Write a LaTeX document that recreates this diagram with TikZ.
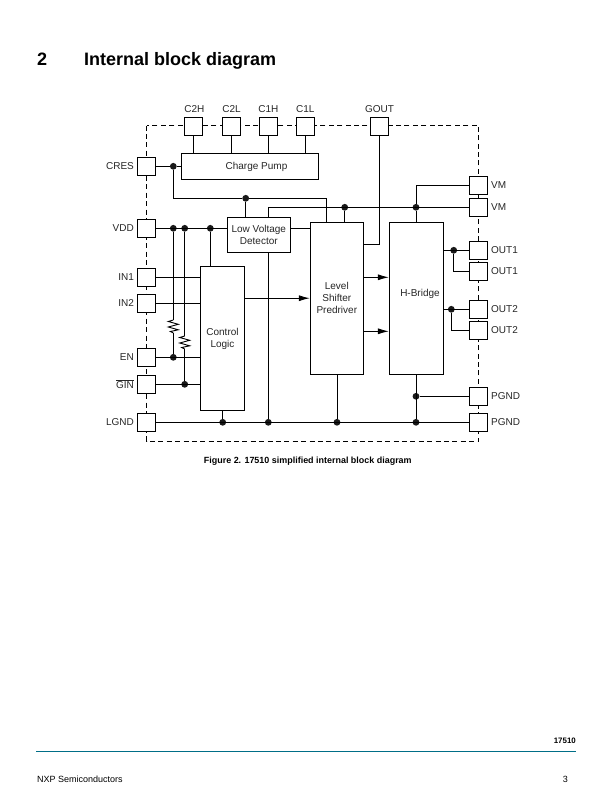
\documentclass[tikz,border=0pt]{standalone}
\usepackage{tikz}
\usepackage{xcolor}
\usepackage{fontspec}
\setmainfont{Liberation Sans}
\usetikzlibrary{positioning,arrows.meta}

\definecolor{rulecolor}{RGB}{0,110,135}

\tikzset{
  pin/.style={draw,fill=white,line width=0.9bp,minimum size=18bp,inner sep=0pt},
  block/.style={draw,fill=white,line width=0.9bp,align=center,inner sep=0pt,font=\fontsize{10bp}{12bp}\selectfont,text=black!85},
  blocktext/.style={inner sep=0pt,font=\fontsize{10bp}{12bp}\selectfont,text=black!85},
  junction/.style={circle,fill=black!90,minimum size=6.8bp,inner sep=0pt},
  wire/.style={line width=0.9bp},
  pinlabel/.style={inner sep=0pt,font=\fontsize{10bp}{12bp}\selectfont,text=black!85},
  flow/.style={wire,-{Latex[length=11bp,width=6bp]}},
  resistor/.pic={\draw[wire] (0,0) -- (-5,1.5) -- (5,4.3) -- (-5,7) -- (5,9.8) -- (-3,11.5) -- (0,13);}
}

\begin{document}
\begin{tikzpicture}[x=1bp,y=-1bp]
  \useasboundingbox (0,0) rectangle (612,792);

  % package outline
  \coordinate (boxtl) at (146.5,125.5);
  \coordinate (boxbr) at (478.8,441.3);
  \draw[line width=0.8bp,dash pattern=on 5bp off 3.4bp] (boxtl) rectangle (boxbr);

  % blocks
  \node[block,minimum width=137bp,minimum height=25.6bp] (pump) at (249.8,166.5) {};
  \node[blocktext] (pumptext) at (256.5,166.7) {Charge Pump};
  \node[block,minimum width=63bp,minimum height=35bp] (lvd) at (258.8,234.8) {Low Voltage\\Detector};
  \node[block,minimum width=44.4bp,minimum height=144bp] (logic) at (222.5,338.3) {};
  \node[blocktext,align=center] (logictext) at (222.5,339) {Control\\Logic};
  \node[block,minimum width=53bp,minimum height=152.3bp] (shifter) at (336.8,298.2) {Level\\Shifter\\Predriver};
  \node[block,minimum width=54.4bp,minimum height=152.3bp] (bridge) at (416.5,298.2) {};
  \node[blocktext] (bridgetext) at (420,293.8) {H-Bridge};

  % pins on the top
  \node[pin] (c2h) at (193.3,126.7) {};
  \node[pin] (c2l) at (231.5,126.7) {};
  \node[pin] (c1h) at (268.3,126.7) {};
  \node[pin] (c1l) at (305.3,126.7) {};
  \node[pin] (gout) at (379.5,126.7) {};

  % pins on the left
  \node[pin] (cres) at (146.5,166.3) {};
  \node[pin] (vdd) at (146.5,228.3) {};
  \node[pin] (in1) at (146.5,277) {};
  \node[pin] (in2) at (146.5,303.3) {};
  \node[pin] (en) at (146.5,357.3) {};
  \node[pin] (gin) at (146.5,384.3) {};
  \node[pin] (lgnd) at (146.5,422.3) {};

  % pins on the right
  \node[pin] (vma) at (478.5,185.3) {};
  \node[pin] (vmb) at (478.5,207.3) {};
  \node[pin] (outa) at (478.5,250.3) {};
  \node[pin] (outb) at (478.5,271.3) {};
  \node[pin] (outc) at (478.5,309.3) {};
  \node[pin] (outd) at (478.5,330.3) {};
  \node[pin] (pgnda) at (478.5,396.3) {};
  \node[pin] (pgndb) at (478.5,422.3) {};

  % pin names
  \node[pinlabel,above=4bp of c2h,xshift=1bp] (c2htext) {C2H};
  \node[pinlabel,above=4bp of c2l] (c2ltext) {C2L};
  \node[pinlabel,above=4bp of c1h] (c1htext) {C1H};
  \node[pinlabel,above=4bp of c1l] (c1ltext) {C1L};
  \node[pinlabel,above=4bp of gout] (gouttext) {GOUT};
  \node[pinlabel,left=3bp of cres] (crestext) {CRES};
  \node[pinlabel,left=3bp of vdd] (vddtext) {VDD};
  \node[pinlabel,left=3bp of in1] (in1text) {IN1};
  \node[pinlabel,left=3bp of in2] (in2text) {IN2};
  \node[pinlabel,left=3bp of en] (entext) {EN};
  \node[pinlabel,left=3bp of gin] (gintext) {$\overline{\mbox{GIN}}$};
  \node[pinlabel,left=3bp of lgnd] (lgndtext) {LGND};
  \node[pinlabel,right=3bp of vma] (vmatext) {VM};
  \node[pinlabel,right=3bp of vmb] (vmbtext) {VM};
  \node[pinlabel,right=3bp of outa] (outatext) {OUT1};
  \node[pinlabel,right=3bp of outb] (outbtext) {OUT1};
  \node[pinlabel,right=3bp of outc] (outctext) {OUT2};
  \node[pinlabel,right=3bp of outd] (outdtext) {OUT2};
  \node[pinlabel,right=3bp of pgnda] (pgndatext) {PGND};
  \node[pinlabel,right=3bp of pgndb] (pgndbtext) {PGND};

  % junctions
  \node[junction] (jcres) at (173.3,166.3) {};
  \node[junction] (jlvd) at (245.7,198.3) {};
  \node[junction] (jvdda) at (173.3,228.3) {};
  \node[junction] (jvddb) at (184.7,228.3) {};
  \node[junction] (jvddc) at (210.3,228.3) {};
  \node[junction] (jen) at (173.3,357.3) {};
  \node[junction] (jgin) at (184.7,384.3) {};
  \node[junction] (jvma) at (344.7,207.3) {};
  \node[junction] (jvmb) at (416,207.3) {};
  \node[junction] (jouta) at (453.7,250.3) {};
  \node[junction] (joutb) at (451.3,309.3) {};
  \node[junction] (jgnda) at (222.7,422.3) {};
  \node[junction] (jgndb) at (268.3,422.3) {};
  \node[junction] (jgndc) at (337,422.3) {};
  \node[junction] (jgndd) at (416,422.3) {};
  \node[junction] (jgnde) at (416,396.3) {};

  % resistors
  \coordinate (resatop) at (173.3,320);
  \coordinate (resabot) at (173.3,333);
  \coordinate (resbtop) at (184.7,336);
  \coordinate (resbbot) at (184.7,349);
  \draw[wire] (jvdda) -- (resatop);
  \pic at (resatop) {resistor};
  \draw[wire] (resabot) -- (jen);
  \draw[wire] (jvddb) -- (resbtop);
  \pic at (resbtop) {resistor};
  \draw[wire] (resbbot) -- (jgin);

  % charge pump and supply wires
  \coordinate (shiftfeed) at (326.3,222.2);
  \coordinate (lvdfeed) at (268.3,217.3);
  \coordinate (goutfeed) at (363.3,244.3);
  \draw[wire] (c2h) -- (c2h |- pump.north);
  \draw[wire] (c2l) -- (c2l |- pump.north);
  \draw[wire] (c1h) -- (c1h |- pump.north);
  \draw[wire] (c1l) -- (c1l |- pump.north);
  \draw[wire] (cres) -- (jcres) -- (pump.west |- jcres);
  \draw[wire] (jcres) |- (jlvd) -| (shiftfeed);
  \draw[wire] (jlvd) -- (jlvd |- lvd.north);
  \draw[wire] (lvdfeed) |- (vmb.west);
  \draw[wire] (jvma) -- (jvma |- shifter.north);
  \draw[wire] (vma.west) -| (jvmb);
  \draw[wire] (jvmb) -- (jvmb |- bridge.north);
  \draw[wire] (gout.south) |- (goutfeed);

  % inputs
  \draw[wire] (vdd) -- (vdd -| lvd.west);
  \draw[wire] (jvddc) -- (jvddc |- logic.north);
  \draw[wire] (lvd.east |- vdd) -- (vdd -| shifter.west);
  \draw[wire] (in1) -- (in1 -| logic.west);
  \draw[wire] (in2) -- (in2 -| logic.west);
  \draw[wire] (en) -- (en -| logic.west);
  \draw[wire] (gin) -- (gin -| logic.west);

  % signal flow
  \coordinate (flowa) at (244.7,298.2);
  \coordinate (flowb) at (363.3,277.3);
  \coordinate (flowc) at (363.3,331.3);
  \draw[flow] (flowa) -- (flowa -| shifter.west);
  \draw[flow] (flowb) -- (flowb -| bridge.west);
  \draw[flow] (flowc) -- (flowc -| bridge.west);

  % outputs
  \draw[wire] (outa -| bridge.east) -- (outa);
  \draw[wire] (jouta) |- (outb);
  \draw[wire] (outc -| bridge.east) -- (outc);
  \draw[wire] (joutb) |- (outd);

  % ground
  \draw[wire] (lgnd) -- (pgndb);
  \draw[wire] (jgnda) -- (jgnda |- logic.south);
  \draw[wire] (jgndb) -- (jgndb |- lvd.south);
  \draw[wire] (jgndc) -- (jgndc |- shifter.south);
  \draw[wire] (jgndd) -- (jgndd |- bridge.south);
  \draw[wire] (jgnde) -- (pgnda);

  % page text
  \node[anchor=base west,inner sep=0pt,font=\fontsize{18bp}{20bp}\selectfont\bfseries] (secnum) at (37,65.5) {2};
  \node[anchor=base west,inner sep=0pt,font=\fontsize{18bp}{20bp}\selectfont\bfseries] (sectitle) at (84,65.5) {Internal block diagram};
  \node[anchor=base,inner sep=0pt,font=\fontsize{8.95bp}{10bp}\selectfont\bfseries] (caption) at (307.8,463) {Figure 2. 17510 simplified internal block diagram};
  \node[anchor=base east,inner sep=0pt,font=\fontsize{7.9bp}{9bp}\selectfont\bfseries] (docnum) at (576,743) {17510};
  \coordinate (rulel) at (36,751.5);
  \coordinate (ruler) at (576,751.5);
  \draw[rulecolor,line width=0.7bp] (rulel) -- (ruler);
  \node[anchor=base west,inner sep=0pt,font=\fontsize{9bp}{10bp}\selectfont] (company) at (37,782) {NXP Semiconductors};
  \node[anchor=base east,inner sep=0pt,font=\fontsize{9bp}{10bp}\selectfont] (pageno) at (568,782) {3};
\end{tikzpicture}
\end{document}
